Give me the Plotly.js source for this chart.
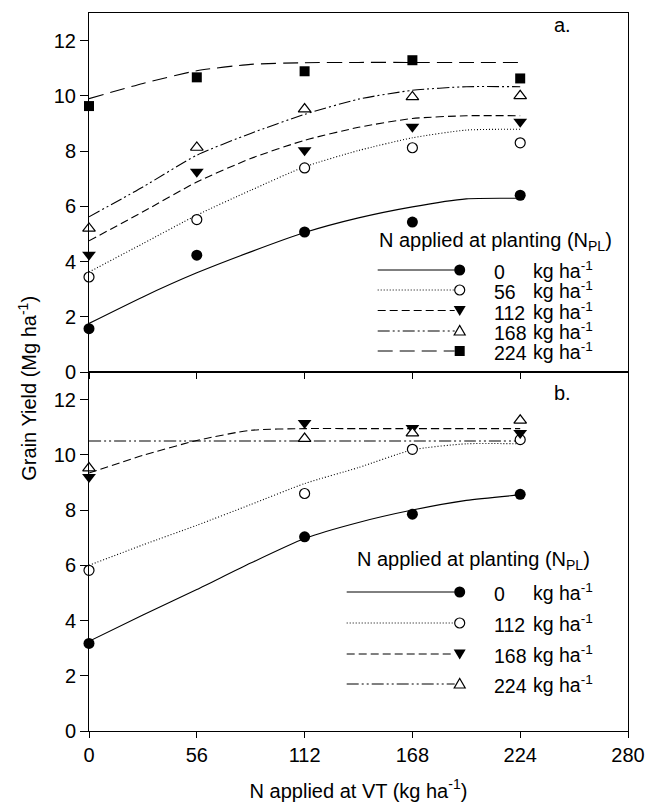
<!DOCTYPE html>
<html>
<head>
<meta charset="utf-8">
<script src="https://cdn.plot.ly/plotly-3.0.1.min.js"></script>
<style>
  html, body { margin: 0; padding: 0; background: #fff; }
  #chart { width: 647px; height: 811px; }
</style>
</head>
<body>
<div id="chart"></div>
<script>
// ---------------- DATA ----------------
// N applied at VT (kg ha-1)
const xTicks = [0, 56, 112, 168, 224, 280];
const yTicks = [0, 2, 4, 6, 8, 10, 12];

// Panel a: observed grain yield (Mg ha-1)
const xA = [0, 56, 112, 168, 224];
const a_N0   = [1.57, 4.23, 5.07, 5.43, 6.40];
const a_N56  = [3.44, 5.52, 7.39, 8.12, 8.30];
const a_N112 = [4.25, 7.25, 8.03, 8.88, 9.06];
const a_N168 = [5.20, 8.13, 9.52, 9.96, 10.00];
const a_N224 = [9.63, 10.67, 10.89, 11.29, 10.63];

// Panel a: fitted curves
const fitX = [0, 28, 56, 84, 112, 140, 168, 196, 224];
const aFit_N0   = [1.76, 2.72, 3.59, 4.35, 5.05, 5.58, 5.98, 6.27, 6.29];
const aFit_N56  = [3.62, 4.65, 5.68, 6.58, 7.43, 8.02, 8.48, 8.76, 8.79];
const aFit_N112 = [4.75, 5.80, 6.88, 7.73, 8.39, 8.86, 9.18, 9.28, 9.28];
const aFit_N168 = [5.62, 6.70, 7.85, 8.64, 9.33, 9.88, 10.20, 10.33, 10.33];
const aFit_N224 = [9.90, 10.45, 10.91, 11.14, 11.20, 11.21, 11.21, 11.21, 11.21];

// Panel b: observed grain yield (Mg ha-1)
const xB = [0, 112, 168, 224];
const b_N0   = [3.17, 7.03, 7.85, 8.57];
const b_N112 = [5.82, 8.60, 10.20, 10.55];
const b_N168 = [9.20, 11.15, 10.97, 10.79];
const b_N224 = [9.52, 10.59, 10.79, 11.25];

// Panel b: fitted curves
const bFit_N0   = [3.25, 4.20, 5.12, 6.08, 6.97, 7.55, 8.00, 8.35, 8.55];
const bFit_N112 = [6.00, 6.74, 7.45, 8.20, 8.96, 9.54, 10.18, 10.40, 10.40];
const bFit_N168 = [9.34, 9.98, 10.52, 10.89, 10.95, 10.95, 10.95, 10.95, 10.95];
const bFit_N224 = [10.50, 10.50, 10.50, 10.50, 10.50, 10.50, 10.50, 10.50, 10.50];

// Legend labels (N applied at planting, kg ha-1)
const legendA = ['0', '56', '112', '168', '224'];
const legendB = ['0', '112', '168', '224'];

// ---------------- STYLES ----------------
const FONT = 'Liberation Sans, Arial, Helvetica, sans-serif';
const FS = 20;
const LFS = 19.5;
const dashes = {
  solid: 'solid',
  dot: '1px,2px',
  dash: '8px,4px',
  dashdotdot: '12px,3px,2px,3px,2px,3px',
  longdash: '15px,7px'
};
const mk = {
  filledCircle: { symbol: 'circle', color: '#000', line: { color: '#000', width: 0 }, size: 11 },
  openCircle:   { symbol: 'circle', color: '#fff', line: { color: '#000', width: 1.2 }, size: 10 },
  downTri:      { symbol: 'triangle-down', color: '#000', line: { color: '#000', width: 0 }, size: 12 },
  openUpTri:    { symbol: 'triangle-up', color: '#fff', line: { color: '#000', width: 1.2 }, size: 11 },
  square:       { symbol: 'square', color: '#000', line: { color: '#000', width: 0 }, size: 10 }
};

const seriesA = [
  { fit: aFit_N0,   obs: a_N0,   dash: dashes.solid,      m: mk.filledCircle },
  { fit: aFit_N56,  obs: a_N56,  dash: dashes.dot,        m: mk.openCircle },
  { fit: aFit_N112, obs: a_N112, dash: dashes.dash,       m: mk.downTri },
  { fit: aFit_N168, obs: a_N168, dash: dashes.dashdotdot, m: mk.openUpTri },
  { fit: aFit_N224, obs: a_N224, dash: dashes.longdash,   m: mk.square }
];
const seriesB = [
  { fit: bFit_N0,   obs: b_N0,   dash: dashes.solid,      m: mk.filledCircle },
  { fit: bFit_N112, obs: b_N112, dash: dashes.dot,        m: mk.openCircle },
  { fit: bFit_N168, obs: b_N168, dash: dashes.dash,       m: mk.downTri },
  { fit: bFit_N224, obs: b_N224, dash: dashes.dashdotdot, m: mk.openUpTri }
];

const traces = [];
function addPanel(series, xObs, xa, ya) {
  series.forEach(s => {
    traces.push({
      x: fitX, y: s.fit, xaxis: xa, yaxis: ya, type: 'scatter', mode: 'lines',
      line: { color: '#000', width: 1.1, dash: s.dash, shape: 'spline', smoothing: 0.6 },
      showlegend: false, hoverinfo: 'skip'
    });
  });
  series.forEach(s => {
    traces.push({
      x: xObs, y: s.obs, xaxis: xa, yaxis: ya, type: 'scatter', mode: 'markers',
      marker: s.m, showlegend: false, cliponaxis: false
    });
  });
}
addPanel(seriesA, xA, 'x2', 'y2');
addPanel(seriesB, xB, 'x', 'y');

// ---------------- LAYOUT HELPERS (pixel -> paper) ----------------
const PL = 89.3, PR = 628.3, PT = 13, PB = 731;
const px = v => (v - PL) / (PR - PL);
const py = v => (PB - v) / (PB - PT);

const shapes = [];
const annotations = [];

function markerShape(m, cx, cy) {
  const base = {
    xref: 'paper', yref: 'paper', xsizemode: 'pixel', ysizemode: 'pixel',
    xanchor: px(cx), yanchor: py(cy),
    fillcolor: m.color, line: { color: '#000', width: m.line.width || 0.01 }
  };
  if (m.symbol === 'circle') {
    const r = m.size / 2;
    return Object.assign(base, { type: 'circle', x0: -r, x1: r, y0: -r, y1: r });
  }
  if (m.symbol === 'square') {
    return Object.assign(base, { type: 'rect', x0: -5, x1: 5, y0: -5, y1: 5 });
  }
  if (m.symbol === 'triangle-down') {
    return Object.assign(base, { type: 'path', path: 'M-6,4.5 L6,4.5 L0,-5.5 Z' });
  }
  return Object.assign(base, { type: 'path', path: 'M-5.5,-4 L5.5,-4 L0,5.5 Z' });
}

function addLegend(series, labels, titleCx, titleCy, rows, lineX0) {
  annotations.push({
    xref: 'paper', yref: 'paper', x: px(titleCx), y: py(titleCy),
    xanchor: 'center', yanchor: 'middle', showarrow: false,
    text: 'N applied at planting (N<sub>PL</sub>)', font: { family: FONT, size: FS, color: '#000' }
  });
  series.forEach((s, i) => {
    const ry = rows[i];
    shapes.push({
      type: 'line', xref: 'paper', yref: 'paper',
      x0: px(lineX0), x1: px(455), y0: py(ry), y1: py(ry),
      line: { color: '#000', width: 1, dash: s.dash }
    });
    shapes.push(markerShape(s.m, 460, ry));
    annotations.push({
      xref: 'paper', yref: 'paper', x: px(492), y: py(ry + 2),
      xanchor: 'left', yanchor: 'middle', showarrow: false,
      text: labels[i], font: { family: FONT, size: LFS, color: '#000' }
    });
    annotations.push({
      xref: 'paper', yref: 'paper', x: px(531), y: py(ry),
      xanchor: 'left', yanchor: 'middle', showarrow: false,
      text: 'kg ha<sup>-1</sup>', font: { family: FONT, size: LFS, color: '#000' }
    });
  });
}
addLegend(seriesA, legendA, 496, 242, [270, 290, 310.5, 331, 351], 378);
addLegend(seriesB, legendB, 474, 560, [592, 623, 654, 684], 347);

annotations.push({
  xref: 'paper', yref: 'paper', x: px(563), y: py(25), xanchor: 'center', yanchor: 'middle',
  showarrow: false, text: 'a.', font: { family: FONT, size: FS, color: '#000' }
});
annotations.push({
  xref: 'paper', yref: 'paper', x: px(563), y: py(393), xanchor: 'center', yanchor: 'middle',
  showarrow: false, text: 'b.', font: { family: FONT, size: FS, color: '#000' }
});
annotations.push({
  xref: 'paper', yref: 'paper', x: px(27), y: py(388), xanchor: 'center', yanchor: 'middle',
  textangle: -90, showarrow: false, text: 'Grain Yield (Mg ha<sup>-1</sup>)',
  font: { family: FONT, size: FS, color: '#000' }
});

const axBase = {
  range: [0, 280], tickvals: xTicks, ticktext: xTicks.map(String),
  showline: true, linecolor: '#000', linewidth: 1, mirror: true,
  ticks: 'outside', ticklen: 6, tickcolor: '#000', tickwidth: 1,
  showgrid: false, zeroline: false,
  tickfont: { family: FONT, size: FS, color: '#000' }
};
const ayBase = {
  range: [0, 13], tickvals: yTicks, ticktext: yTicks.map(String),
  showline: true, linecolor: '#000', linewidth: 1, mirror: true,
  ticks: 'outside', ticklen: 8, tickcolor: '#000', tickwidth: 1,
  showgrid: false, zeroline: false,
  tickfont: { family: FONT, size: FS, color: '#000' }
};

const layout = {
  width: 647, height: 811,
  margin: { l: PL, r: 647 - PR, t: PT, b: 811 - PB },
  paper_bgcolor: '#fff', plot_bgcolor: '#fff',
  font: { family: FONT, size: FS, color: '#000' },
  showlegend: false,
  xaxis: Object.assign({}, axBase, {
    anchor: 'y',
    title: { text: 'N applied at VT (kg ha<sup>-1</sup>)', font: { family: FONT, size: FS, color: '#000' }, standoff: 18 }
  }),
  xaxis2: Object.assign({}, axBase, { anchor: 'y2', showticklabels: false, matches: 'x' }),
  yaxis: Object.assign({}, ayBase, { domain: [0, 0.5], anchor: 'x' }),
  yaxis2: Object.assign({}, ayBase, { domain: [0.5, 1], anchor: 'x2' }),
  shapes: shapes,
  annotations: annotations
};

Plotly.newPlot('chart', traces, layout, { displayModeBar: false });
</script>
</body>
</html>
